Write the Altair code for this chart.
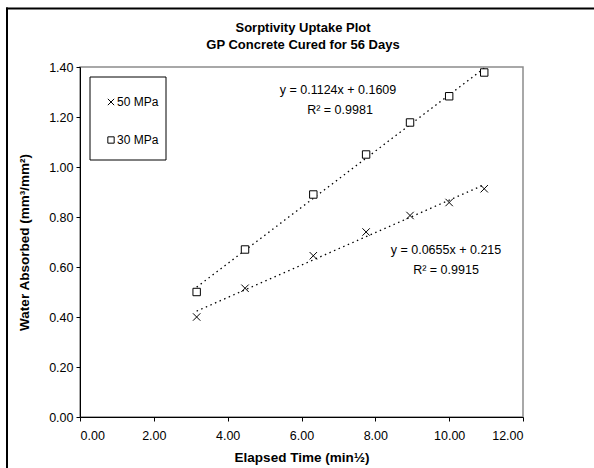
import altair as alt
import pandas as pd

# ---- data ----
elapsed = [3.16, 4.47, 6.32, 7.75, 8.94, 10.00, 10.95]
mpa50 = [0.40, 0.515, 0.645, 0.740, 0.806, 0.858, 0.913]
mpa30 = [0.50, 0.67, 0.890, 1.050, 1.178, 1.283, 1.378]
series_names = ["50 MPa", "30 MPa"]
x_ticks = [0, 2, 4, 6, 8, 10, 12]
y_ticks = [0, 0.2, 0.4, 0.6, 0.8, 1.0, 1.2, 1.4]
eq_50 = ["y = 0.0655x + 0.215", "R² = 0.9915"]
eq_30 = ["y = 0.1124x + 0.1609", "R² = 0.9981"]
title_lines = ["Sorptivity Uptake Plot", "GP Concrete Cured for 56 Days"]

rows = []
for x, a, b in zip(elapsed, mpa50, mpa30):
    rows.append({"x": x, "y": a, "series": series_names[0]})
    rows.append({"x": x, "y": b, "series": series_names[1]})
df = pd.DataFrame(rows)

FONT = "Liberation Sans"
W, H = 443, 350
LEFT, TOP = 80, 67

xscale = alt.Scale(domain=[0, 12], nice=False, zero=False)
yscale = alt.Scale(domain=[0, 1.4], nice=False)
X_CROSS = "M-1,-1L1,1M-1,1L1,-1"
shape_scale = alt.Scale(domain=series_names, range=[X_CROSS, "square"])

base = alt.Chart(df)

trend = base.mark_line(color="black", strokeDash=[1.5, 3.5], strokeWidth=1.3).encode(
    x=alt.X("x:Q", scale=xscale),
    y=alt.Y("y:Q", scale=yscale),
    detail="series:N",
).transform_regression("x", "y", groupby=["series"])

points = base.mark_point(filled=False, color="black", strokeWidth=1, fill="white", fillOpacity=1).encode(
    x=alt.X(
        "x:Q",
        scale=xscale,
        axis=alt.Axis(
            values=x_ticks, format=".2f", title="Elapsed Time (min½)", grid=False,
            domainColor="black", tickColor="black", tickSize=4, labelPadding=8,
            labelFont=FONT, labelFontSize=12.5, labelColor="black",
            titleFont=FONT, titleFontSize=13.5, titleFontWeight="bold", titleColor="black",
            titlePadding=9,
        ),
    ),
    y=alt.Y(
        "y:Q",
        scale=yscale,
        axis=alt.Axis(
            values=y_ticks, format=".2f", title="Water Absorbed (mm³/mm²)", grid=False,
            domainColor="black", tickColor="black", tickSize=4, labelPadding=3,
            labelFont=FONT, labelFontSize=12.5, labelColor="black",
            titleFont=FONT, titleFontSize=13.5, titleFontWeight="bold", titleColor="black",
            titlePadding=17,
        ),
    ),
    shape=alt.Shape("series:N", scale=shape_scale, legend=None),
    size=alt.value(55),
)

dummy = alt.Chart(pd.DataFrame({"k": [0]}))


def text_layer(txt, x, y, size=12.5, weight="normal", align="center"):
    return dummy.mark_text(
        text=txt, font=FONT, fontSize=size, fontWeight=weight, color="black",
        align=align, baseline="middle",
    ).encode(x=alt.value(x - LEFT), y=alt.value(y - TOP))


titles = [
    text_layer(title_lines[0], 303, 28, 13, "bold"),
    text_layer(title_lines[1], 303, 45, 13, "bold"),
]
eqs = [
    text_layer(eq_30[0], 338, 90),
    text_layer(eq_30[1], 340, 110),
    text_layer(eq_50[0], 446, 250),
    text_layer(eq_50[1], 446, 270),
]

# legend box built from the series names, drawn with the same shape scale
legend_box = dummy.mark_rect(fill="white", stroke="black", strokeWidth=1).encode(
    x=alt.value(90 - LEFT), x2=alt.value(166 - LEFT),
    y=alt.value(77 - TOP), y2=alt.value(160 - TOP),
)
legend_layers = []
for name, ypix in zip(series_names, [102, 140]):
    ldf = alt.Chart(pd.DataFrame({"series": [name]}))
    legend_layers.append(
        ldf.mark_point(filled=False, color="black", strokeWidth=1, fill="white", fillOpacity=1).encode(
            shape=alt.Shape("series:N", scale=shape_scale, legend=None),
            x=alt.value(111 - LEFT), y=alt.value(ypix - TOP), size=alt.value(40),
        )
    )
    legend_layers.append(
        ldf.mark_text(font=FONT, fontSize=12, color="black", align="left", baseline="middle").encode(
            text="series:N", x=alt.value(117 - LEFT), y=alt.value(ypix - TOP)
        )
    )

frame_top = dummy.mark_rule(color="black", strokeWidth=2).encode(
    x=alt.value(6 - LEFT), x2=alt.value(700), y=alt.value(8.5 - TOP)
)
frame_left = dummy.mark_rule(color="black", strokeWidth=2).encode(
    x=alt.value(7 - LEFT), y=alt.value(7.5 - TOP), y2=alt.value(500)
)

chart = alt.layer(
    frame_top, frame_left, trend, points, legend_box, *legend_layers, *titles, *eqs
).properties(
    width=W, height=H,
    autosize=alt.AutoSizeParams(type="none"),
    padding={"left": LEFT, "top": TOP, "right": 594 - LEFT - W, "bottom": 468 - TOP - H},
    background="white",
).configure_view(
    stroke="#8c8c8c", strokeWidth=1.5
)

chart.save("out.html", embed_options={"renderer": "svg", "actions": False})
